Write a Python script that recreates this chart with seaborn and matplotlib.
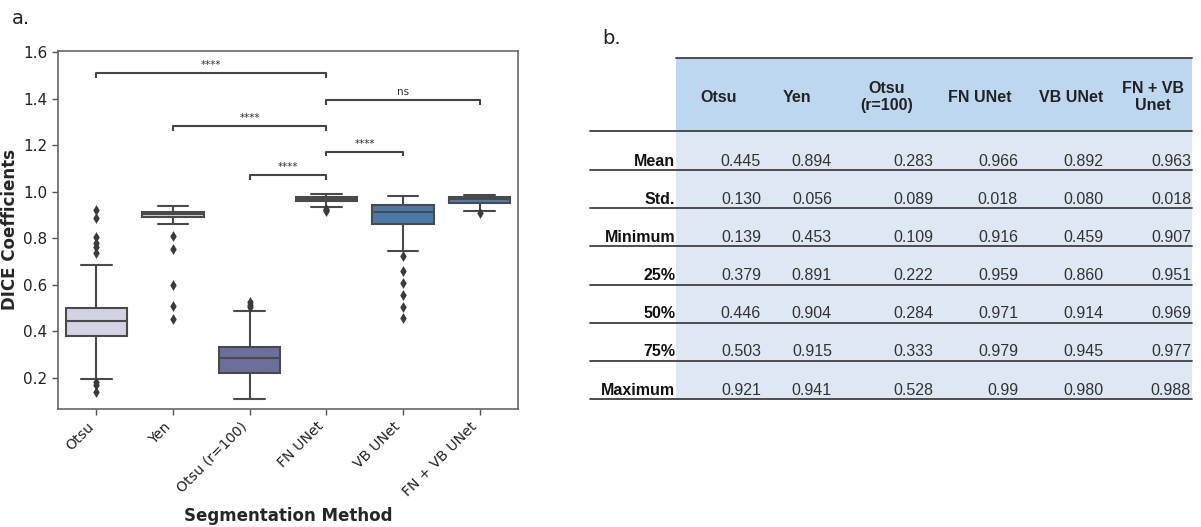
import numpy as np
import pandas as pd
import matplotlib
matplotlib.use("Agg")
import matplotlib.pyplot as plt
from matplotlib.patches import Rectangle
import seaborn as sns

# ---------------- data ----------------
categories = ["Otsu", "Yen", "Otsu (r=100)", "FN UNet", "VB UNet", "FN + VB UNet"]
q1 = [0.379, 0.891, 0.222, 0.959, 0.860, 0.951]
med = [0.446, 0.904, 0.284, 0.971, 0.914, 0.969]
q3 = [0.503, 0.915, 0.333, 0.979, 0.945, 0.977]
whisk_lo = [0.198, 0.860, 0.109, 0.933, 0.747, 0.919]
whisk_hi = [0.685, 0.941, 0.486, 0.990, 0.980, 0.988]
fliers = {
    "Otsu": [0.921, 0.886, 0.805, 0.779, 0.764, 0.736, 0.184, 0.170, 0.139],
    "Yen": [0.812, 0.756, 0.598, 0.511, 0.453],
    "Otsu (r=100)": [0.505, 0.515, 0.528],
    "FN UNet": [0.916, 0.922, 0.928],
    "VB UNet": [0.724, 0.658, 0.609, 0.558, 0.506, 0.459],
    "FN + VB UNet": [0.907],
}
box_colors = ["#d4d3e3", "#d2d2dc", "#6a6f9c", "#3f5a7a", "#4a78a8", "#567ca6"]

# significance pairs (index a, index b, bracket top, label)
pair_a = [0, 1, 2, 3, 3]
pair_b = [3, 3, 3, 4, 5]
pair_y = [1.510, 1.283, 1.072, 1.173, 1.395]
pair_lbl = ["****", "****", "****", "****", "ns"]

# table
tbl_cols = ["Otsu", "Yen", "Otsu\n(r=100)", "FN UNet", "VB UNet", "FN + VB\nUnet"]
tbl_rows = ["Mean", "Std.", "Minimum", "25%", "50%", "75%", "Maximum"]
tbl_vals = [
    ["0.445", "0.894", "0.283", "0.966", "0.892", "0.963"],
    ["0.130", "0.056", "0.089", "0.018", "0.080", "0.018"],
    ["0.139", "0.453", "0.109", "0.916", "0.459", "0.907"],
    ["0.379", "0.891", "0.222", "0.959", "0.860", "0.951"],
    ["0.446", "0.904", "0.284", "0.971", "0.914", "0.969"],
    ["0.503", "0.915", "0.333", "0.979", "0.945", "0.977"],
    ["0.921", "0.941", "0.528", "0.99", "0.980", "0.988"],
]

# ---------------- style ----------------
sns.set_theme(style="ticks")
plt.rcParams["font.family"] = ["DejaVu Sans"]

W, H = 1201, 527
fig = plt.figure(figsize=(W / 100, H / 100), dpi=100)

ax = fig.add_axes([58 / W, 1 - 409 / H, 460 / W, 358 / H])

edge = "#4a4a4a"
stats = []
for i, c in enumerate(categories):
    stats.append(dict(label=c, q1=q1[i], med=med[i], q3=q3[i],
                      whislo=whisk_lo[i], whishi=whisk_hi[i], fliers=[]))
bp = ax.bxp(stats, positions=list(range(len(categories))), widths=0.8,
            capwidths=0.4, patch_artist=True, showfliers=False,
            boxprops=dict(edgecolor=edge, linewidth=1.5),
            medianprops=dict(color=edge, linewidth=1.5),
            whiskerprops=dict(color=edge, linewidth=1.5),
            capprops=dict(color=edge, linewidth=1.5))
for patch, col in zip(bp["boxes"], box_colors):
    patch.set_facecolor(col)

fl_df = pd.DataFrame([(k, v) for k in categories for v in fliers[k]],
                     columns=["method", "value"])
sns.stripplot(data=fl_df, x="method", y="value", order=categories,
              jitter=False, marker="d", color="#3a3a3a", size=5.5,
              linewidth=0, ax=ax, zorder=3)

# brackets
h = 0.021
for a, b, y, lbl in zip(pair_a, pair_b, pair_y, pair_lbl):
    ax.plot([a, a, b, b], [y - h, y, y, y - h], color="#444444", lw=1.5,
            solid_capstyle="butt")
    ax.text((a + b) / 2, y + 0.012, lbl, ha="center", va="bottom",
            fontsize=7.5, color="#333333")

ax.set_xlim(-0.5, len(categories) - 0.5)
ax.set_ylim(0.067, 1.605)
ax.set_yticks([0.2, 0.4, 0.6, 0.8, 1.0, 1.2, 1.4, 1.6])
ax.set_yticklabels(["0.2", "0.4", "0.6", "0.8", "1.0", "1.2", "1.4", "1.6"])
ax.set_xticks(range(len(categories)))
ax.set_xticklabels(categories, rotation=45, ha="right")
ax.tick_params(axis="y", labelsize=11)
ax.tick_params(axis="x", labelsize=10.2)
ax.tick_params(axis="both", colors="#222222", length=4, width=1.0,
               color="#555555")
for s in ax.spines.values():
    s.set_visible(True)
    s.set_color("#666666")
    s.set_linewidth(1.2)
ax.set_xlabel("Segmentation Method", fontsize=12, fontweight="bold")
ax.set_ylabel("DICE Coefficients", fontsize=12, fontweight="bold")
ax.xaxis.set_label_coords(0.5, (409 - 507) / 358)
ax.yaxis.set_label_coords((19 - 58) / 460, 0.5)

fig.text(12 / W, 1 - 19 / H, "a.", fontsize=14, va="center", ha="left",
         color="#222222")
fig.text(602 / W, 1 - 39 / H, "b.", fontsize=14, va="center", ha="left",
         color="#222222")

# ---------------- table ----------------
tx = fig.add_axes([0, 0, 1, 1])
tx.set_xlim(0, W)
tx.set_ylim(H, 0)
tx.axis("off")
tfont = "Liberation Sans"

band_l, band_r = 676, 1192
head_top, head_bot = 58, 131
row_lines = [170 + i * 38.2 for i in range(len(tbl_rows))]
tx.add_patch(Rectangle((band_l, head_top), band_r - band_l, head_bot - head_top,
                       facecolor="#bdd7ee", edgecolor="none", zorder=0))
tx.add_patch(Rectangle((band_l, head_bot), band_r - band_l,
                       row_lines[-1] - head_bot,
                       facecolor="#dde8f4", edgecolor="none", zorder=0))
tx.plot([band_l, band_r], [head_top, head_top], color="#404040", lw=1.3)
tx.plot([590, band_r], [head_bot, head_bot], color="#404040", lw=1.3)
for yl in row_lines:
    tx.plot([590, band_r], [yl, yl], color="#404040", lw=1.3)

col_center = [719, 797, 887, 980, 1071, 1153]
col_right = [761, 832, 933, 1018, 1103, 1191]
for j, name in enumerate(tbl_cols):
    tx.text(col_center[j], 97, name, ha="center", va="center", fontsize=11.5,
            fontweight="bold", fontfamily=tfont, color="#222222",
            linespacing=1.1)
for i, rname in enumerate(tbl_rows):
    yc = row_lines[i] - 9
    tx.text(675, yc, rname, ha="right", va="center", fontsize=11.5,
            fontweight="bold", fontfamily=tfont, color="#111111")
    for j in range(len(tbl_cols)):
        tx.text(col_right[j], yc, tbl_vals[i][j], ha="right", va="center",
                fontsize=11.5, fontfamily=tfont, color="#333333")

fig.savefig("out.png", dpi=100)
